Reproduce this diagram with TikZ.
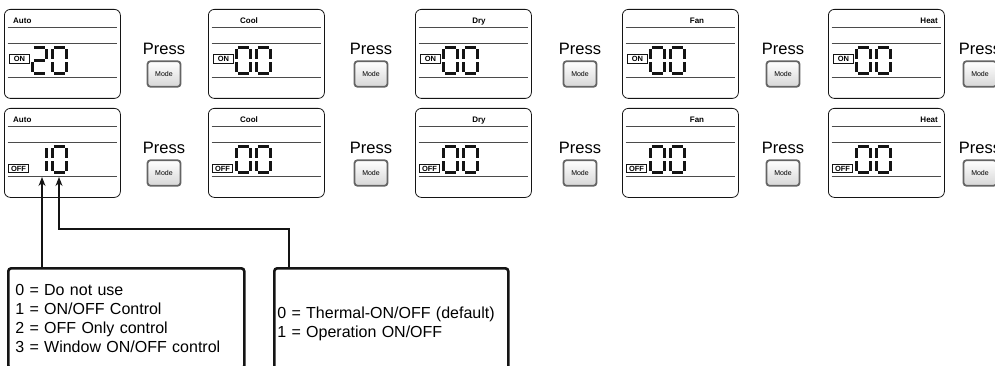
\documentclass[tikz,border=0pt]{standalone}
\usepackage{fontspec}
\setmainfont{Liberation Sans}
\usepackage{xcolor}
\definecolor{ink}{RGB}{20,20,20}
\definecolor{rulegray}{RGB}{75,75,75}
\definecolor{keyrim}{RGB}{100,100,100}
\definecolor{keyface}{RGB}{215,215,215}
\usetikzlibrary{arrows.meta,positioning,calc}
\tikzset{
  lcd/.style={draw=ink, line width=0.8pt, rounded corners=6pt,
              minimum width=116pt, minimum height=89pt, inner sep=0pt,
              anchor=north west},
  lcdrule/.style={draw=rulegray, line width=0.9pt},
  seg/.style={draw=ink, line width=2.6pt},
  lcdtitle/.style={font=\bfseries\fontsize{8}{8}\selectfont, inner sep=0pt,
                   text height=5.8pt, text depth=0pt},
  flag/.style={draw=ink, line width=0.7pt, inner sep=0pt,
               minimum width=20pt, minimum height=8.5pt,
               font=\bfseries\fontsize{7.5}{7.5}\selectfont},
  presslbl/.style={font=\fontsize{16.5}{18}\selectfont, inner sep=0pt},
  modekey/.style={draw=keyrim, line width=1.8pt, rounded corners=3pt,
                  top color=white, bottom color=keyface,
                  minimum width=33pt, minimum height=25.5pt, inner sep=0pt,
                  font=\fontsize{7}{7}\selectfont},
  optbox/.style={draw=ink, line width=2.6pt, rounded corners=3pt,
                 anchor=north west, align=left,
                 font=\fontsize{16}{19}\selectfont},
  conn/.style={draw=ink, line width=1.1pt},
  pick/.style={conn, -{Stealth[length=9pt,width=7pt]}},
}
% seven segment pieces, cell 14 x 25.5
\newcommand\lcdA{(1.6,0)--(12.4,0)}
\newcommand\lcdB{(14,1.6)--(14,11.2)}
\newcommand\lcdC{(14,14.3)--(14,23.9)}
\newcommand\lcdD{(1.6,25.5)--(12.4,25.5)}
\newcommand\lcdE{(0,14.3)--(0,23.9)}
\newcommand\lcdF{(0,1.6)--(0,11.2)}
\newcommand\lcdG{(1.6,12.75)--(12.4,12.75)}
\newcommand\lcdzero{\lcdA\lcdB\lcdC\lcdD\lcdE\lcdF}
\newcommand\lcdone{\lcdB\lcdC}
\newcommand\lcdtwo{\lcdA\lcdB\lcdG\lcdE\lcdD}

\begin{document}
\begin{tikzpicture}[x=1pt,y=-1pt]
\useasboundingbox (0,0) rectangle (995,366);
\clip (0,0) rectangle (995,366);

\foreach \px/\mname/\ttx/\tanc/\kx/\dtop/\dbot [count=\i] in
  {4/Auto/9/west/164/\lcdtwo/\lcdone,
   208/Cool/41/center/371/\lcdzero/\lcdzero,
   415/Dry/64/center/580/\lcdzero/\lcdzero,
   622/Fan/75/center/783/\lcdzero/\lcdzero,
   828/Heat/110/east/980/\lcdzero/\lcdzero}{
  \foreach \py/\st in {9/on,108/off}{
    \node[lcd] (lcd-\st-\i) at (\px,\py) {};
    \node[lcdtitle, anchor=\tanc] (ttl-\st-\i) at (\px+\ttx,\py+11.5) {\mname};
    \foreach \ry in {18,34,68}
      \draw[lcdrule] (\px+3.5,\py+\ry) -- (\px+112.5,\py+\ry);
    \node[presslbl] (prs-\st-\i) at (\kx,\py+40) {Press};
    \node[modekey] (key-\st-\i) at (\kx,\py+65) {Mode};
    \draw[seg,shift={(\px+48.3,\py+38.8)}] \lcdzero;
  }
  \node[flag] (flag-on-\i) at (\px+15.5,59) {ON};
  \node[flag] (flag-off-\i) at (\px+14.5,168.5) {OFF};
  \draw[seg,shift={(\px+28.3,47.8)}] \dtop;
  \draw[seg,shift={(\px+28.3,146.8)}] \dbot;
}

\node[optbox, text width=222pt, inner xsep=7pt, inner ysep=16pt] (ctrlopts) at (7,267)
  {0 = Do not use\\1 = ON/OFF Control\\2 = OFF Only control\\3 = Window ON/OFF control};
\node[optbox, text width=228pt, inner xsep=3pt, inner ysep=39pt] (thermopts) at (273,267)
  {0 = Thermal-ON/OFF (default)\\1 = Operation ON/OFF};

\coordinate (pick-a) at (42,177);
\coordinate (pick-b) at (59,177);
\coordinate (elbow) at (289,229);
\draw[pick] (ctrlopts.north -| pick-a) -- (pick-a);
\draw[pick] (elbow |- thermopts.north) -- (elbow) -| (pick-b);
\end{tikzpicture}
\end{document}
